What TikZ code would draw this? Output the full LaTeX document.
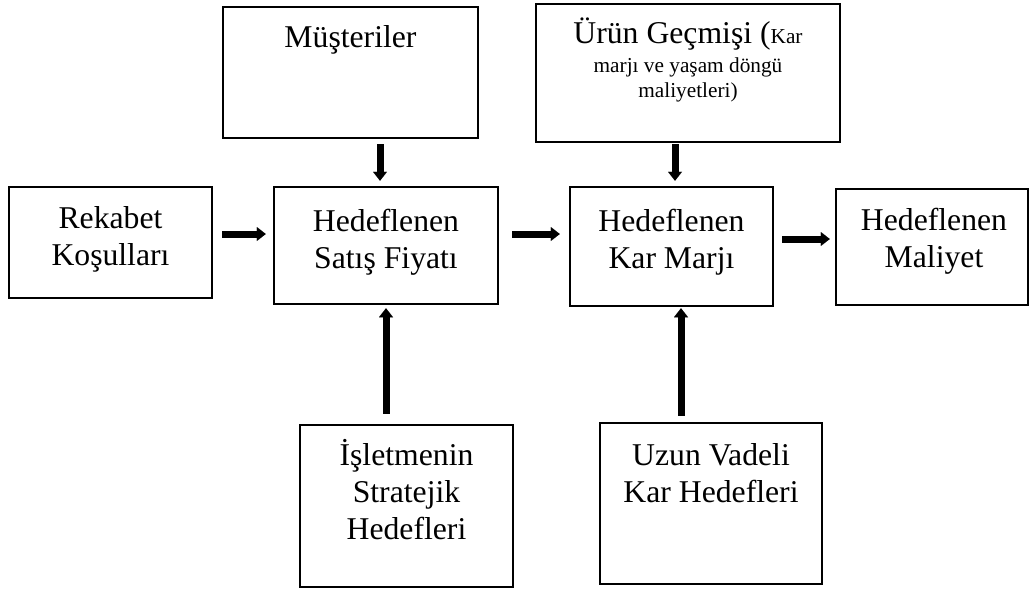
\documentclass[tikz,border=0pt]{standalone}
\usepackage{fontspec}
\setmainfont{Liberation Serif}
\usetikzlibrary{arrows.meta}
\tikzset{
  box/.style={draw, line width=2.5pt, inner sep=0pt},
  big/.style={font=\fontsize{31.7}{36.7}\selectfont, align=center, inner sep=0pt, anchor=base},
  small/.style={font=\fontsize{21.3}{25}\selectfont, align=center, inner sep=0pt, anchor=base},
  blk/.style={line width=7pt, -{Triangle[width=14pt,length=9pt,line width=0.01pt]}}
}
\begin{document}
\begin{tikzpicture}[x=1pt,y=-1pt]
\fill[white] (0,0) rectangle (1030,589);
\useasboundingbox (0,0) rectangle (1030,589);
% boxes
\node[box, minimum width=255pt, minimum height=131pt] (mus) at (350.5,72.5) {};
\node[box, minimum width=304pt, minimum height=138pt] (urun) at (688,73) {};
\node[box, minimum width=203pt, minimum height=111pt] (rek) at (110.5,242.5) {};
\node[box, minimum width=224pt, minimum height=117pt] (sat) at (386,245.5) {};
\node[box, minimum width=203pt, minimum height=119pt] (kar) at (671.5,246.5) {};
\node[box, minimum width=192pt, minimum height=116pt] (mal) at (932,247) {};
\node[box, minimum width=213pt, minimum height=162pt] (isl) at (406.5,506) {};
\node[box, minimum width=222pt, minimum height=161pt] (uzun) at (711,503.5) {};
% texts (anchor base = baseline of last line)
\node[big] (mustxt) at (350.5,47) {Müşteriler};
\node[big] (urun1) at (688,43) {Ürün Geçmişi ({\fontsize{21.3}{25}\selectfont Kar}};
\node[small] (urun2) at (688,97) {marjı ve yaşam döngü\\maliyetleri)};
\node[big] (rektxt) at (110.5,265) {Rekabet\\Koşulları};
\node[big] (sattxt) at (386,268) {Hedeflenen\\Satış Fiyatı};
\node[big] (kartxt) at (671.5,268) {Hedeflenen\\Kar Marjı};
\node[big] (maltxt) at (934,267) {Hedeflenen\\Maliyet};
\node[big] (isltxt) at (406.5,539) {İşletmenin\\Stratejik\\Hedefleri};
\node[big] (uzuntxt) at (711,502) {Uzun Vadeli\\Kar Hedefleri};
% arrows
\draw[blk, shorten <=5pt, shorten >=5pt] ([xshift=-6pt]sat.north |- mus.south) -- ([xshift=-6pt]sat.north);
\draw[blk, shorten <=1pt, shorten >=5pt] ([xshift=3.5pt]kar.north |- urun.south) -- ([xshift=3.5pt]kar.north);
\draw[blk, shorten <=9pt, shorten >=7pt] ([yshift=11.5pt]sat.west -| rek.east) -- ([yshift=11.5pt]sat.west);
\draw[blk, shorten <=13pt, shorten >=9pt] ([yshift=11.5pt]sat.east) -- ([yshift=11.5pt]sat.east -| kar.west);
\draw[blk, shorten <=8pt, shorten >=5pt] ([yshift=7.5pt]kar.east) -- ([yshift=7.5pt]kar.east -| mal.west);
\draw[blk, shorten <=10pt, shorten >=3pt] (sat.south |- isl.north) -- (sat.south);
\draw[blk, shorten <=6pt, shorten >=1pt] ([xshift=9.5pt]kar.south |- uzun.north) -- ([xshift=9.5pt]kar.south);
\end{tikzpicture}
\end{document}
